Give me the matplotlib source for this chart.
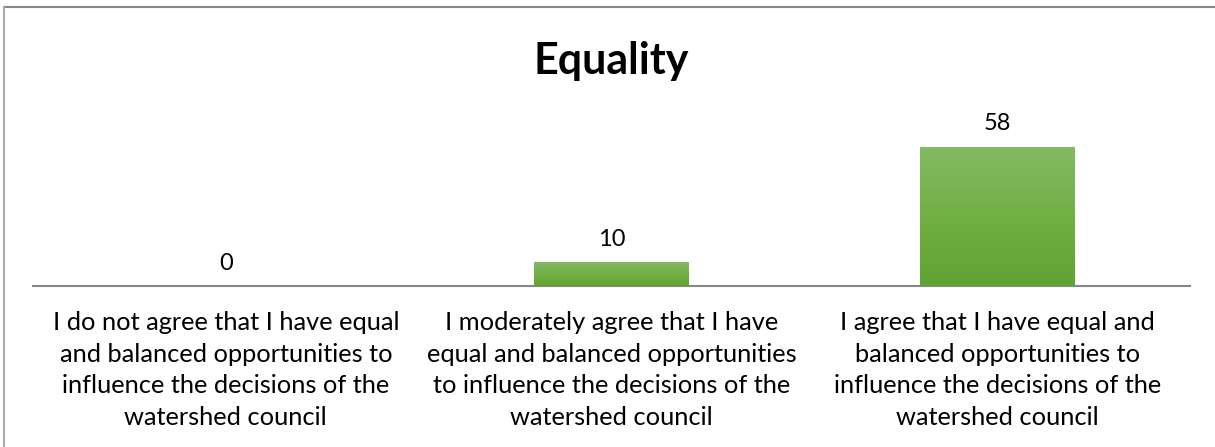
import matplotlib
matplotlib.use("Agg")
import matplotlib.pyplot as plt
import numpy as np
from matplotlib.lines import Line2D
from matplotlib.colors import LinearSegmentedColormap

plt.rcParams['font.family'] = ['Lato', 'DejaVu Sans']

title = "Equality"
categories = [
    "I do not agree that I have equal\nand balanced opportunities to\ninfluence the decisions of the\nwatershed council",
    "I moderately agree that I have\nequal and balanced opportunities\nto influence the decisions of the\nwatershed council",
    "I agree that I have equal and\nbalanced opportunities to\ninfluence the decisions of the\nwatershed council",
]
values = [0, 10, 58]

W, H = 1215, 447
fig = plt.figure(figsize=(W / 100, H / 100), dpi=100)
ax = fig.add_axes([33 / W, (H - 286) / H, 1157 / W, 192 / H])

x = np.arange(len(values))
bars = ax.bar(x, values, width=0.4, color='#70ad47', zorder=2)
ax.set_xlim(-0.5, len(values) - 0.5)
ax.set_ylim(0, 80)

cmap = LinearSegmentedColormap.from_list('g', ['#62a233', '#72af44', '#84b966'])
grad = np.linspace(0, 1, 256).reshape(-1, 1)
for b in bars:
    if b.get_height() <= 0:
        continue
    x0, w, h = b.get_x(), b.get_width(), b.get_height()
    im = ax.imshow(grad, extent=[x0, x0 + w, 0, h], origin='lower', cmap=cmap,
                   aspect='auto', zorder=3)
    im.set_clip_path(b)

ax.set_xlim(-0.5, len(values) - 0.5)
ax.set_ylim(0, 80)

for xi, v in zip(x, values):
    ax.annotate(str(v), (xi, v), xytext=(0, 9), textcoords='offset points',
                ha='center', va='bottom', fontsize=17, color='#000000')

for s in ['top', 'right', 'left']:
    ax.spines[s].set_visible(False)
ax.spines['bottom'].set_color('#868686')
ax.spines['bottom'].set_linewidth(1.5)
ax.set_yticks([])
ax.set_xticks(x)
ax.set_xticklabels(categories, fontsize=18.3, linespacing=1.45, color='#000000')
ax.tick_params(axis='x', length=0, pad=18)

fig.text(611 / W, 1 - 61 / H, title, ha='center', va='center', fontsize=31,
         fontweight='bold', color='#000000')

fig.add_artist(Line2D([4 / W, 1], [1 - 7 / H, 1 - 7 / H], color='#888888', lw=1.5,
                      transform=fig.transFigure))
fig.add_artist(Line2D([4 / W, 4 / W], [0, 1 - 7 / H], color='#aaaaaa', lw=1.5,
                      transform=fig.transFigure))

fig.savefig('out.png', dpi=100, facecolor='white')
